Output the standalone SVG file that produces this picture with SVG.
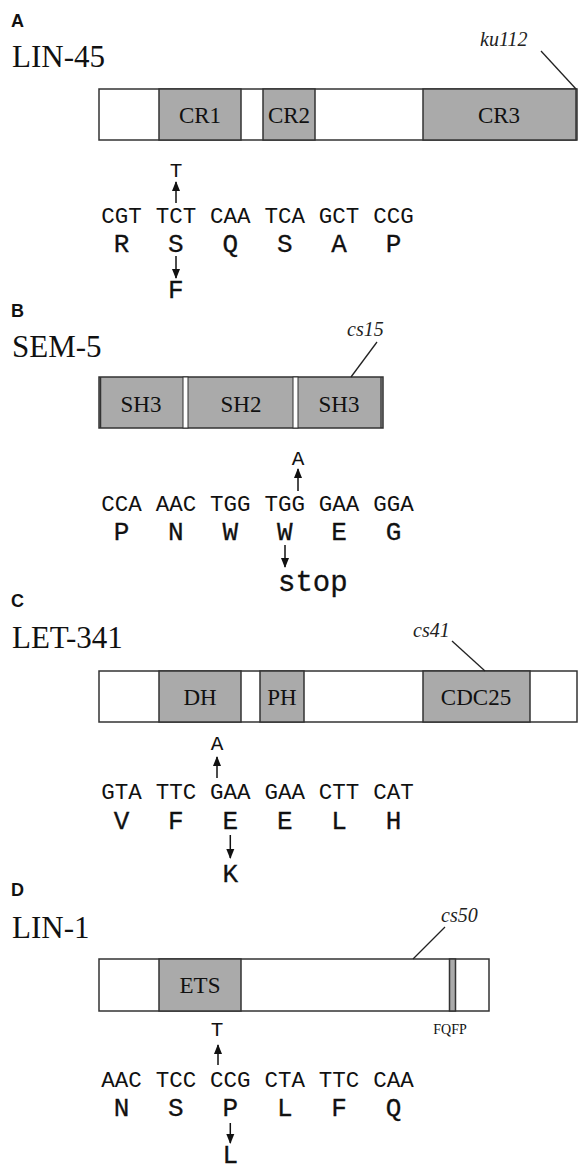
<svg xmlns="http://www.w3.org/2000/svg" width="579" height="1171" viewBox="0 0 579 1171">
<style>
.panel{font-family:"Liberation Sans",Arial,sans-serif;font-weight:bold;font-size:18px;fill:#111}
.prot{font-family:"Liberation Serif","Times New Roman",serif;font-size:31px;fill:#111}
.allele{font-family:"Liberation Serif","Times New Roman",serif;font-style:italic;font-size:20px;fill:#222}
.dom{font-family:"Liberation Serif","Times New Roman",serif;font-size:23px;fill:#111;text-anchor:middle}
.small{font-family:"Liberation Serif","Times New Roman",serif;font-size:14px;fill:#111;text-anchor:middle}
.codon{font-family:"Nimbus Mono PS","Courier New","Liberation Mono",monospace;font-size:22.5px;fill:#111;text-anchor:middle}
.aa{font-family:"Nimbus Mono PS","Courier New","Liberation Mono",monospace;font-size:26px;fill:#111;text-anchor:middle;stroke:#111;stroke-width:0.3}
.mut{font-family:"Nimbus Mono PS","Courier New","Liberation Mono",monospace;font-size:21px;fill:#111;text-anchor:middle}
.mutaa{font-family:"Nimbus Mono PS","Courier New","Liberation Mono",monospace;font-size:26px;fill:#111;text-anchor:middle;stroke:#111;stroke-width:0.3}
.stop{font-family:"Nimbus Mono PS","Courier New","Liberation Mono",monospace;font-size:29px;fill:#111;stroke:#111;stroke-width:0.3}
.box{fill:#fff;stroke:#333;stroke-width:1.5}
.g{fill:#aaa;stroke:#333;stroke-width:1.5}
.lead{stroke:#222;stroke-width:1.3;fill:none}
.arr{stroke:#111;stroke-width:1.5;fill:none;marker-end:url(#ah)}
</style>
<defs>
<marker id="ah" markerUnits="userSpaceOnUse" markerWidth="10" markerHeight="10" viewBox="0 0 10 8" refX="9" refY="4" orient="auto">
<path d="M0,0 L10,4 L0,8 z" fill="#111"/>
</marker>
</defs>

<g id="panelA">
<text class="panel" x="11" y="27">A</text>
<text class="prot" x="12" y="67">LIN-45</text>
<text class="allele" x="480" y="46">ku112</text>
<g id="lin45-protein">
<rect class="box" x="99" y="89" width="478" height="51"/>
<rect class="g" x="159" y="89" width="82" height="51"/>
<rect class="g" x="263" y="89" width="52" height="51"/>
<rect class="g" x="423" y="89" width="153" height="51"/>
<text class="dom" x="200" y="123">CR1</text>
<text class="dom" x="289" y="123">CR2</text>
<text class="dom" x="499" y="123">CR3</text>
</g>
<g id="lin45-seq">
<text class="mut" x="176" y="177">T</text>
<text class="codon" x="121.5" y="223">CGT</text>
<text class="codon" x="175.9" y="223">TCT</text>
<text class="codon" x="230.3" y="223">CAA</text>
<text class="codon" x="284.7" y="223">TCA</text>
<text class="codon" x="339.1" y="223">GCT</text>
<text class="codon" x="393.5" y="223">CCG</text>
<text class="aa" x="121.5" y="252">R</text>
<text class="aa" x="175.9" y="252">S</text>
<text class="aa" x="230.3" y="252">Q</text>
<text class="aa" x="284.7" y="252">S</text>
<text class="aa" x="339.1" y="252">A</text>
<text class="aa" x="393.5" y="252">P</text>
<text class="mutaa" x="175.9" y="298">F</text>
</g>
</g>

<g id="panelB">
<text class="panel" x="11" y="317">B</text>
<text class="prot" x="12" y="357">SEM-5</text>
<text class="allele" x="347" y="336">cs15</text>
<g id="sem5-protein">
<rect class="g" x="99" y="377" width="284" height="51"/>
<rect x="183" y="377" width="5" height="51" fill="#fff" stroke="#333" stroke-width="1"/>
<rect x="293" y="377" width="5" height="51" fill="#fff" stroke="#333" stroke-width="1"/>
<line x1="100.5" y1="377" x2="100.5" y2="428" stroke="#333" stroke-width="1.5"/>
<line x1="381" y1="377" x2="381" y2="428" stroke="#333" stroke-width="1.3"/>
<text class="dom" x="141" y="412">SH3</text>
<text class="dom" x="241" y="412">SH2</text>
<text class="dom" x="339" y="412">SH3</text>
</g>
<g id="sem5-seq">
<text class="mut" x="298" y="465">A</text>
<text class="codon" x="121.5" y="511">CCA</text>
<text class="codon" x="175.9" y="511">AAC</text>
<text class="codon" x="230.3" y="511">TGG</text>
<text class="codon" x="284.7" y="511">TGG</text>
<text class="codon" x="339.1" y="511">GAA</text>
<text class="codon" x="393.5" y="511">GGA</text>
<text class="aa" x="121.5" y="540">P</text>
<text class="aa" x="175.9" y="540">N</text>
<text class="aa" x="230.3" y="540">W</text>
<text class="aa" x="284.7" y="540">W</text>
<text class="aa" x="339.1" y="540">E</text>
<text class="aa" x="393.5" y="540">G</text>
<text class="stop" x="278" y="591">stop</text>
</g>
</g>

<g id="panelC">
<text class="panel" x="11" y="607">C</text>
<text class="prot" x="12" y="648">LET-341</text>
<text class="allele" x="413" y="637">cs41</text>
<g id="let341-protein">
<rect class="box" x="99" y="671" width="478" height="51"/>
<rect class="g" x="159" y="671" width="82" height="51"/>
<rect class="g" x="260" y="671" width="44" height="51"/>
<rect class="g" x="423" y="671" width="107" height="51"/>
<text class="dom" x="200" y="705">DH</text>
<text class="dom" x="282" y="705">PH</text>
<text class="dom" x="476" y="705">CDC25</text>
</g>
<g id="let341-seq">
<text class="mut" x="217" y="750">A</text>
<text class="codon" x="121.5" y="799">GTA</text>
<text class="codon" x="175.9" y="799">TTC</text>
<text class="codon" x="230.3" y="799">GAA</text>
<text class="codon" x="284.7" y="799">GAA</text>
<text class="codon" x="339.1" y="799">CTT</text>
<text class="codon" x="393.5" y="799">CAT</text>
<text class="aa" x="121.5" y="829">V</text>
<text class="aa" x="175.9" y="829">F</text>
<text class="aa" x="230.3" y="829">E</text>
<text class="aa" x="284.7" y="829">E</text>
<text class="aa" x="339.1" y="829">L</text>
<text class="aa" x="393.5" y="829">H</text>
<text class="mutaa" x="230.3" y="882">K</text>
</g>
</g>

<g id="panelD">
<text class="panel" x="11" y="896">D</text>
<text class="prot" x="12" y="938">LIN-1</text>
<text class="allele" x="441" y="922">cs50</text>
<g id="lin1-protein">
<rect class="box" x="99" y="959" width="390" height="52"/>
<rect class="g" x="159" y="959" width="82" height="52"/>
<rect class="g" x="449.5" y="959" width="6" height="52"/>
<text class="dom" x="200" y="993">ETS</text>
<text class="small" x="450" y="1034">FQFP</text>
</g>
<g id="lin1-seq">
<text class="mut" x="217" y="1036">T</text>
<text class="codon" x="121.5" y="1087">AAC</text>
<text class="codon" x="175.9" y="1087">TCC</text>
<text class="codon" x="230.3" y="1087">CCG</text>
<text class="codon" x="284.7" y="1087">CTA</text>
<text class="codon" x="339.1" y="1087">TTC</text>
<text class="codon" x="393.5" y="1087">CAA</text>
<text class="aa" x="121.5" y="1116">N</text>
<text class="aa" x="175.9" y="1116">S</text>
<text class="aa" x="230.3" y="1116">P</text>
<text class="aa" x="284.7" y="1116">L</text>
<text class="aa" x="339.1" y="1116">F</text>
<text class="aa" x="393.5" y="1116">Q</text>
<text class="mutaa" x="230.3" y="1163">L</text>
</g>
</g>

<g id="connectors">
<line class="lead" x1="541" y1="51" x2="576" y2="89"/>
<line class="lead" x1="377" y1="342" x2="351" y2="377"/>
<line class="lead" x1="452" y1="641" x2="485" y2="671"/>
<line class="lead" x1="445" y1="927" x2="413" y2="959"/>
<line class="arr" x1="176" y1="203" x2="176" y2="182"/>
<line class="arr" x1="176" y1="256" x2="176" y2="278"/>
<line class="arr" x1="298" y1="491" x2="298" y2="469"/>
<line class="arr" x1="285" y1="545" x2="285" y2="567"/>
<line class="arr" x1="217" y1="778" x2="217" y2="757"/>
<line class="arr" x1="230.3" y1="835" x2="230.3" y2="858"/>
<line class="arr" x1="218" y1="1065" x2="218" y2="1045"/>
<line class="arr" x1="230.3" y1="1123" x2="230.3" y2="1143"/>
</g>
</svg>
